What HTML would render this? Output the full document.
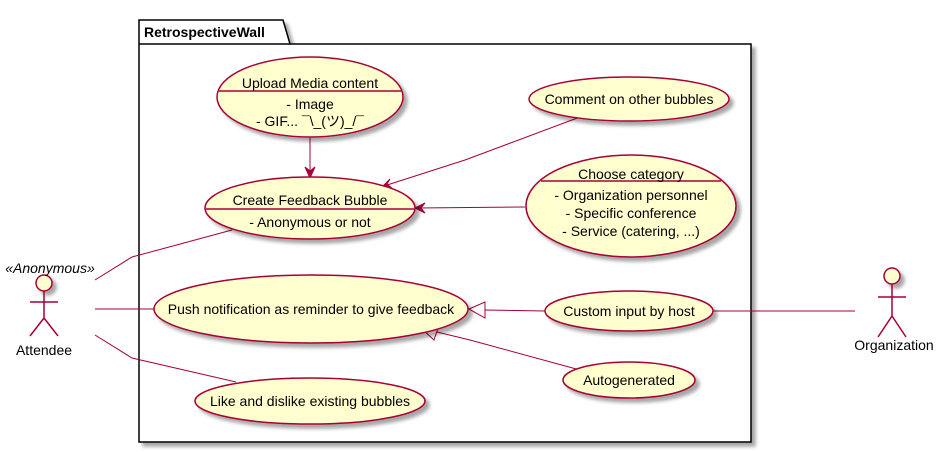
<!DOCTYPE html>
<html><head><meta charset="utf-8"><style>body{margin:0;background:#fff}svg{display:block}</style></head><body>
<svg width="941" height="452" viewBox="0 0 941 452" xmlns="http://www.w3.org/2000/svg" font-family="Liberation Sans, Noto Sans CJK JP, sans-serif">
<defs>
<filter id="sh" x="-20%" y="-20%" width="150%" height="150%"><feGaussianBlur in="SourceAlpha" stdDeviation="1.8"/><feOffset dx="4" dy="4"/><feComponentTransfer><feFuncA type="linear" slope="0.35"/></feComponentTransfer><feMerge><feMergeNode/><feMergeNode in="SourceGraphic"/></feMerge></filter>
</defs>
<g filter="url(#sh)">
<path d="M139,20 L283,20 L290,44 L751,44 L751,442 L139,442 Z" fill="#fff" stroke="#000" stroke-width="1.5"/>
</g>
<line x1="139" y1="44" x2="290" y2="44" stroke="#000" stroke-width="1.5"/>
<text x="144" y="37" font-size="14" font-weight="bold">RetrospectiveWall</text>

<g stroke="#A80036" stroke-width="1" fill="none">
<polyline points="95,280 132,257 232,230"/>
<line x1="95" y1="309" x2="154" y2="309"/>
<polyline points="95,335 132,358 236,382"/>
<line x1="713" y1="311" x2="855" y2="311"/>
<line x1="310" y1="138" x2="310" y2="177"/>
<polyline points="580,117 465,160 384,186"/>
<line x1="525" y1="207" x2="417" y2="208"/>
<line x1="545" y1="311" x2="484" y2="310"/>
<polyline points="580,370 470,340 437,332"/>
</g>
<g fill="#A80036" stroke="#A80036">
<polygon points="310,178 305,167 310,171 315,167"/>
<polygon points="382,187 390,179 387,184 393,189"/>
<polygon points="415,208 425,203 421,208 425,213"/>
</g>
<g fill="#fff" stroke="#A80036">
<polygon points="469,309 485,302 485,318"/>
<polygon points="422,329 439,325 434,340"/>
</g>

<g filter="url(#sh)" fill="#FEFECE" stroke="#A80036" stroke-width="1.5">
<ellipse cx="310" cy="97" rx="93" ry="40"/>
<ellipse cx="310" cy="208" rx="105" ry="31"/>
<ellipse cx="629" cy="99" rx="100" ry="22"/>
<ellipse cx="631" cy="206" rx="105" ry="51"/>
<ellipse cx="311" cy="309" rx="157" ry="34"/>
<ellipse cx="629" cy="311" rx="84" ry="20"/>
<ellipse cx="629" cy="380" rx="66" ry="18"/>
<ellipse cx="310" cy="401" rx="115" ry="23"/>
<circle cx="44" cy="283" r="8"/>
<circle cx="892" cy="276" r="8"/>
</g>
<g stroke="#A80036" stroke-width="1.5" fill="none">
<line x1="219" y1="91" x2="401" y2="91"/>
<line x1="206" y1="209" x2="414" y2="209"/>
<line x1="541" y1="181" x2="721" y2="181"/>
<path d="M44,291 V318 M30,302 H58 M44,318 L30,336 M44,318 L58,336"/>
<path d="M892,284 V316 M878,297 H906 M892,316 L878,337 M892,316 L906,337"/>
</g>

<g font-size="14" fill="#000" text-anchor="middle">
<text x="310" y="88">Upload Media content</text>
<text x="310" y="109">- Image</text>
<text x="310" y="126">- GIF... ¯\_(ツ)_/¯</text>
<text x="310" y="205">Create Feedback Bubble</text>
<text x="310" y="227">- Anonymous or not</text>
<text x="629" y="104">Comment on other bubbles</text>
<text x="631" y="179">Choose category</text>
<text x="631" y="200">- Organization personnel</text>
<text x="631" y="218">- Specific conference</text>
<text x="631" y="236">- Service (catering, ...)</text>
<text x="311" y="314">Push notification as reminder to give feedback</text>
<text x="629" y="316">Custom input by host</text>
<text x="629" y="385">Autogenerated</text>
<text x="310" y="406">Like and dislike existing bubbles</text>
<text x="44" y="355">Attendee</text>
<text x="894" y="350">Organization</text>
<text x="50" y="273" font-style="italic">«Anonymous»</text>
</g>
</svg>
</body></html>
